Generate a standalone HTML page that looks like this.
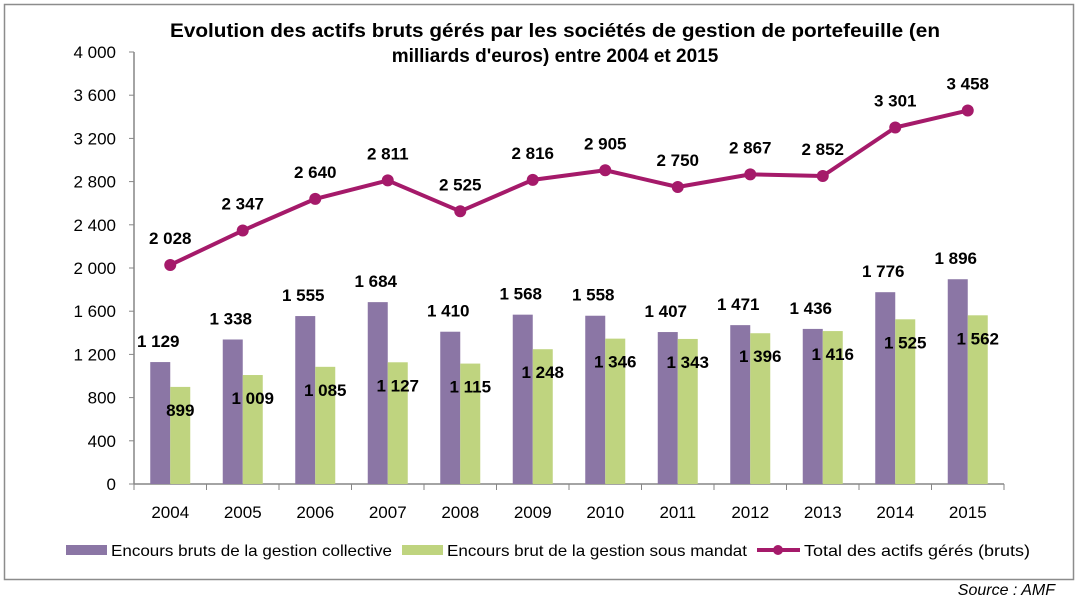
<!DOCTYPE html>
<html><head><meta charset="utf-8"><style>
body{margin:0;background:#fff;width:1080px;height:599px;overflow:hidden;font-family:"Liberation Sans",Arial,sans-serif}
</style></head><body>
<svg id="chart" width="1080" height="599" xmlns="http://www.w3.org/2000/svg">
<rect x="4.5" y="4.5" width="1069" height="575" fill="#fff" stroke="#8c8c8c" stroke-width="1.5"/>
<text x="555" y="37" text-anchor="middle" font-size="19" font-weight="bold" fill="#000" textLength="770" lengthAdjust="spacingAndGlyphs">Evolution des actifs bruts gérés par les sociétés de gestion de portefeuille (en</text>
<text x="555" y="62" text-anchor="middle" font-size="19" font-weight="bold" fill="#000">milliards d'euros) entre 2004 et 2015</text>
<g id="plot"></g>
<g>
<rect x="66" y="545" width="41" height="10" fill="#8B76A5"/>
<text x="111" y="556" font-size="16" fill="#000" textLength="281" lengthAdjust="spacingAndGlyphs">Encours bruts de la gestion collective</text>
<rect x="402" y="545" width="41" height="10" fill="#BFD47F"/>
<text x="447" y="556" font-size="16" fill="#000" textLength="300" lengthAdjust="spacingAndGlyphs">Encours brut de la gestion sous mandat</text>
<line x1="757" y1="550" x2="800" y2="550" stroke="#A51A6A" stroke-width="4"/>
<circle cx="778" cy="550" r="5" fill="#A51A6A"/>
<text x="804" y="556" font-size="16" fill="#000" textLength="226" lengthAdjust="spacingAndGlyphs">Total des actifs gérés (bruts)</text>
</g>
<text x="1055" y="595" text-anchor="end" font-size="16" font-style="italic" fill="#000">Source : AMF</text>
</svg>
<script>
const years=["2004","2005","2006","2007","2008","2009","2010","2011","2012","2013","2014","2015"];
const collective=[1129,1338,1555,1684,1410,1568,1558,1407,1471,1436,1776,1896];
const mandat=[899,1009,1085,1127,1115,1248,1346,1343,1396,1416,1525,1562];
const total=[2028,2347,2640,2811,2525,2816,2905,2750,2867,2852,3301,3458];
const yTicks=[0,400,800,1200,1600,2000,2400,2800,3200,3600,4000];
const NS="http://www.w3.org/2000/svg";
const g=document.getElementById('plot');
const x0=134,step=72.5,yBase=484,yTop=52,yMax=4000;
const xc=i=>x0+step*(i+0.5);
const y=v=>yBase-(v/yMax)*(yBase-yTop);
const fmt=v=>{const s=String(v);return s.length>3?s.slice(0,s.length-3)+" "+s.slice(-3):s;};
function mk(tag,attrs){const e=document.createElementNS(NS,tag);for(const k in attrs)e.setAttribute(k,attrs[k]);g.appendChild(e);return e;}
function txt(x,yy,s,size,anchor,weight){const e=mk('text',{x:x,y:yy,'font-size':size,'text-anchor':anchor,'font-weight':weight||'normal',fill:'#000'});e.textContent=s;return e;}
let e=mk('line',{x1:x0,y1:yTop,x2:x0,y2:yBase,stroke:'#868686','stroke-width':1.5});


e=mk('line',{x1:x0,y1:yBase,x2:x0+step*years.length,y2:yBase,stroke:'#868686','stroke-width':1.5});


yTicks.forEach(v=>{
 const t=mk('line',{x1:x0-5,y1:y(v),x2:x0,y2:y(v),stroke:'#868686','stroke-width':1});
 
 
 const l=txt(x0-18,y(v)+6,fmt(v),17,'end');
 
 
});
for(let i=0;i<=years.length;i++){
 const t=mk('line',{x1:x0+step*i,y1:yBase,x2:x0+step*i,y2:yBase+6,stroke:'#868686','stroke-width':1});
 
 
}
years.forEach((yr,i)=>{
 const l=txt(xc(i),518,yr,17,'middle');
 
 
 const b1=mk('rect',{x:xc(i)-20,y:y(collective[i]),width:20,height:yBase-y(collective[i]),fill:'#8B76A5'});
 
 
 const b2=mk('rect',{x:xc(i),y:y(mandat[i]),width:20,height:yBase-y(mandat[i]),fill:'#BFD47F'});
 
 
 const l1=txt(xc(i)-12,y(collective[i])-15,fmt(collective[i]),17,'middle','bold');
 
 
 const l2=txt(xc(i)+10,y(mandat[i])+29,fmt(mandat[i]),17,'middle','bold');
 
 
});
const pl=mk('polyline',{points:total.map((v,i)=>xc(i)+','+y(v)).join(' '),fill:'none',stroke:'#A51A6A','stroke-width':4,'stroke-linejoin':'round'});


total.forEach((v,i)=>{
 const c=mk('circle',{cx:xc(i),cy:y(v),r:6,fill:'#A51A6A'});
 
 
 const l=txt(xc(i),y(v)-21,fmt(v),17,'middle','bold');
 
 
});
</script>
</body></html>
